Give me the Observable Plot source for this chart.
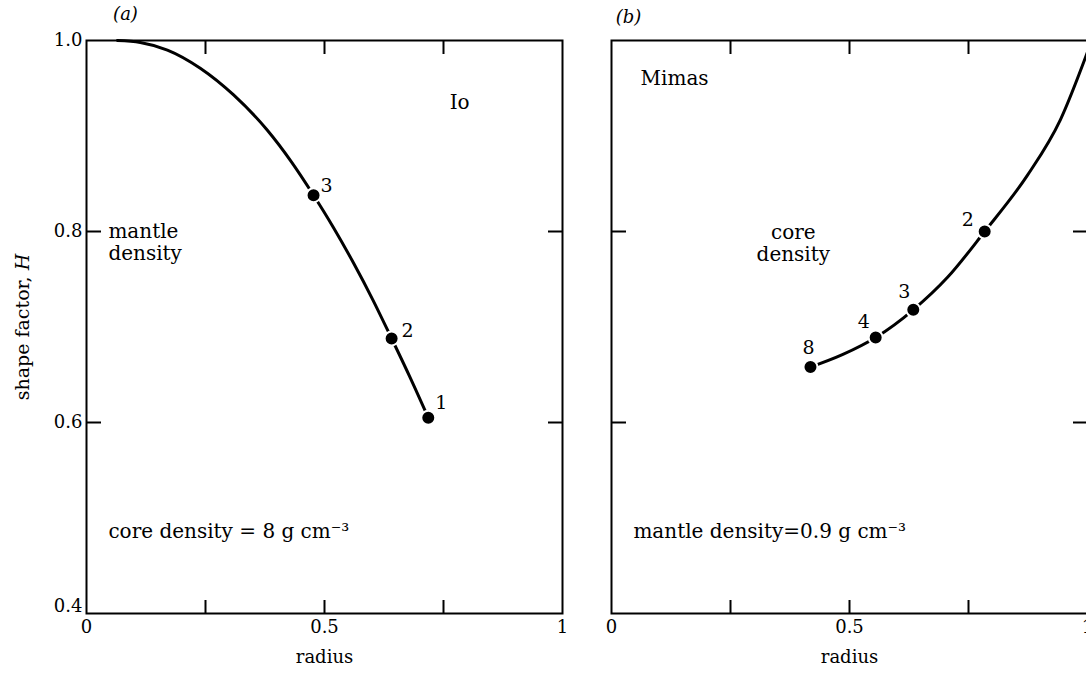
<!DOCTYPE html>
<html><head><meta charset="utf-8">
<script src="https://cdn.jsdelivr.net/npm/d3@7"></script>
<script src="https://cdn.jsdelivr.net/npm/@observablehq/plot@0.6"></script>
<style>
body{margin:0;background:#fff;}
#wrap{position:relative;width:1086px;height:674px;overflow:hidden;background:#fff;}
#wrap svg{position:absolute;top:0;}
</style></head><body><div id="wrap"></div>
<script>
// ---- data ----
const ioCurveRadius = [0.065, 0.113, 0.170, 0.239, 0.309, 0.380, 0.429, 0.477, 0.519, 0.561, 0.601, 0.641, 0.680, 0.718];
const ioCurveH      = [1.000, 0.998, 0.990, 0.971, 0.943, 0.906, 0.874, 0.838, 0.804, 0.767, 0.729, 0.688, 0.647, 0.605];
const ioPointRadius = [0.718, 0.641, 0.477];
const ioPointH      = [0.605, 0.688, 0.838];
const ioPointLabels = ["1", "2", "3"];

const mimasCurveRadius = [0.418, 0.485, 0.555, 0.634, 0.706, 0.784, 0.874, 0.943, 1.000];
const mimasCurveH      = [0.658, 0.671, 0.689, 0.718, 0.752, 0.800, 0.859, 0.917, 0.988];
const mimasPointRadius = [0.418, 0.555, 0.634, 0.784];
const mimasPointH      = [0.658, 0.689, 0.718, 0.800];
const mimasPointLabels = ["8", "4", "3", "2"];

const xTickValues = [0, 0.5, 1];
const xTickLabels = ["0", "0.5", "1"];
const xMinorTicks = [0.25, 0.5, 0.75];
const yTickValues = [1.0, 0.8, 0.6];
const yTickLabels = ["1.0", "0.8", "0.6"];
const yBottomTick = [0.4];
const yBottomLabel = ["0.4"];
const yMinorTicks = [0.8, 0.6];

// label offsets (style)
const ioLabelOffset = {"1": [13, -15], "2": [16, -8], "3": [13, -9]};
const mimasLabelOffset = {"8": [-2, -19], "4": [-12, -16], "3": [-9, -18], "2": [-17, -12]};

const FONT = "DejaVu Serif";
const toRows = (xs, ys, ls) => xs.map((x, i) => ({r: x, h: ys[i], label: ls ? ls[i] : null}));

function panel({curve, points, offsets, leftLabels, letter, letterDx, letterDy, annotations, width, marginLeft}) {
  const marks = [
    Plot.frame({stroke: "black", strokeWidth: 2}),
    Plot.axisX(xTickValues, {anchor: "bottom", tickSize: 0, tickPadding: 7, fontSize: 18,
      tickFormat: d => xTickLabels[xTickValues.indexOf(d)], label: null}),
    Plot.axisX(xMinorTicks, {anchor: "bottom", tickSize: -13, strokeWidth: 2, tickFormat: () => "", label: null}),
    Plot.axisX(xMinorTicks, {anchor: "top", tickSize: -13, strokeWidth: 2, tickFormat: () => "", label: null}),
    Plot.axisY(yMinorTicks, {anchor: "left", tickSize: -15, strokeWidth: 2, tickFormat: () => "", label: null}),
    Plot.axisY(yMinorTicks, {anchor: "right", tickSize: -15, strokeWidth: 2, tickFormat: () => "", label: null}),
    Plot.line(curve, {x: "r", y: "h", curve: "monotone-x", stroke: "black", strokeWidth: 3}),
    Plot.dot(points, {x: "r", y: "h", r: 7, fill: "black", stroke: "white", strokeWidth: 2}),
    ...points.map(p => Plot.text([p], {x: "r", y: "h", text: "label", dx: offsets[p.label][0], dy: offsets[p.label][1],
      fontSize: 19, textAnchor: "middle"})),
    Plot.text([letter], {frameAnchor: "top-left", dx: letterDx, dy: letterDy, fontSize: 18, fontStyle: "italic", textAnchor: "middle"}),
    Plot.text(["radius"], {frameAnchor: "bottom", dy: 49, fontSize: 18}),
    ...annotations.map(a => Plot.text([a], {x: a.r, y: a.h, text: d => d.text, fontSize: 20, textAnchor: a.anchor, lineHeight: 1.1}))
  ];
  if (leftLabels) {
    marks.push(
      Plot.axisY(yTickValues, {anchor: "left", tickSize: 0, tickPadding: 4, fontSize: 18,
        tickFormat: d => yTickLabels[yTickValues.indexOf(d)], label: null}),
      Plot.axisY(yBottomTick, {anchor: "left", tickSize: 0, tickPadding: 4, fontSize: 18, dy: -7,
        tickFormat: d => yBottomLabel[yBottomTick.indexOf(d)], label: null}),
      Plot.text(["shape factor, H"], {frameAnchor: "left", dx: -64, rotate: -90, fontSize: 19, textAnchor: "middle"})
    );
  }
  return Plot.plot({
    width, height: 674,
    marginLeft, marginRight: width - marginLeft - 476, marginTop: 40, marginBottom: 61,
    x: {domain: [0, 1]},
    y: {domain: [0.4, 1.0]},
    style: {fontFamily: FONT, fontSize: "18px", color: "black", background: "transparent", overflow: "visible", maxWidth: "none"},
    marks
  });
}

const left = panel({
  curve: toRows(ioCurveRadius, ioCurveH),
  points: toRows(ioPointRadius, ioPointH, ioPointLabels),
  offsets: ioLabelOffset,
  leftLabels: true,
  letter: "(a)", letterDx: 39, letterDy: -33,
  annotations: [
    {r: 0.763, h: 0.936, text: "Io", anchor: "start"},
    {r: 0.046, h: 0.789, text: "mantle\ndensity", anchor: "start"},
    {r: 0.046, h: 0.486, text: "core density = 8 g cm\u207B\u00B3", anchor: "start"}
  ],
  width: 586, marginLeft: 86
});
left.style.left = "0px";

const right = panel({
  curve: toRows(mimasCurveRadius, mimasCurveH),
  points: toRows(mimasPointRadius, mimasPointH, mimasPointLabels),
  offsets: mimasLabelOffset,
  leftLabels: false,
  letter: "(b)", letterDx: 17, letterDy: -30,
  annotations: [
    {r: 0.061, h: 0.961, text: "Mimas", anchor: "start"},
    {r: 0.382, h: 0.788, text: "core\ndensity", anchor: "middle"},
    {r: 0.046, h: 0.486, text: "mantle density=0.9 g cm\u207B\u00B3", anchor: "start"}
  ],
  width: 520, marginLeft: 25
});
right.style.left = "586px";

const wrap = document.getElementById("wrap");
wrap.appendChild(left);
wrap.appendChild(right);

// italic H in the y label
left.querySelectorAll("text").forEach(t => {
  if (t.textContent === "shape factor, H") {
    t.textContent = "shape factor, ";
    const ts = document.createElementNS("http://www.w3.org/2000/svg", "tspan");
    ts.setAttribute("font-style", "italic");
    ts.textContent = "H";
    t.appendChild(ts);
  }
});
</script>
</body></html>
